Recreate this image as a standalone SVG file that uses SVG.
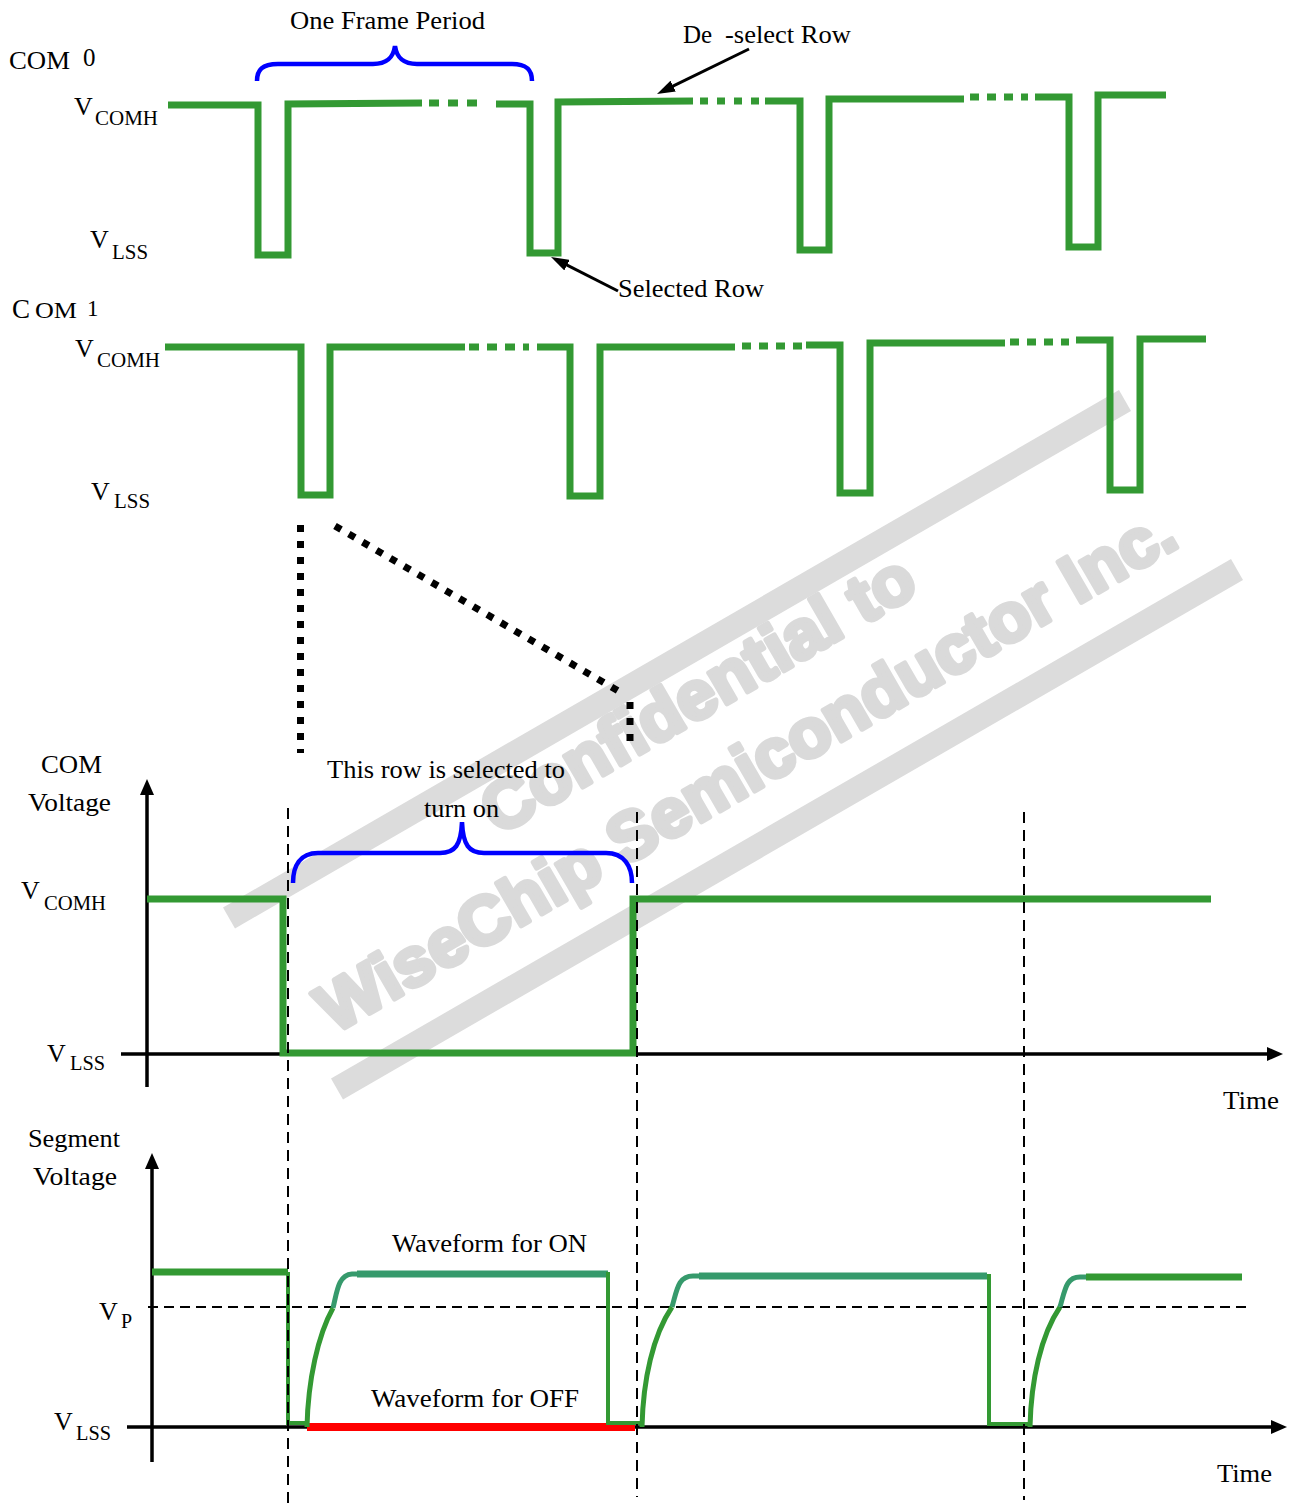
<svg xmlns="http://www.w3.org/2000/svg" width="1292" height="1503" viewBox="0 0 1292 1503">
<style>
text{font-family:"Liberation Serif","Times New Roman",serif;fill:#000}
.t{font-size:25px}
.v{font-size:26px}
.s{font-size:20px}
.wm{font-family:"Liberation Sans",Arial,sans-serif;font-weight:bold;font-size:68px;fill:#dadada;stroke:#dadada;stroke-width:5;stroke-linejoin:round}
.band{stroke:#dcdcdc;stroke-width:24;fill:none}
.g{fill:none;stroke:#339933;stroke-width:7;stroke-linejoin:miter;stroke-linecap:butt}
.gd{fill:none;stroke:#339933;stroke-width:7;stroke-dasharray:10 8}
.gt{fill:none;stroke:#339933;stroke-width:4}
.gc{fill:none;stroke:#339933;stroke-width:5}
.tc{fill:none;stroke:#369a6c;stroke-width:5}
.tt{fill:none;stroke:#369a6c;stroke-width:7}
.red{fill:none;stroke:#ff0000;stroke-width:8}
.brace{fill:none;stroke:#0000ff;stroke-width:4.5}
.axis{fill:none;stroke:#000;stroke-width:3.5}
.dash{fill:none;stroke:#000;stroke-width:2;stroke-dasharray:11 7}
.dot{fill:none;stroke:#000;stroke-width:7;stroke-dasharray:7 9}
.call{fill:none;stroke:#000;stroke-width:3}
</style>
<defs>
<marker id="ah" viewBox="0 0 16 14" refX="4" refY="7" markerWidth="16" markerHeight="14" markerUnits="userSpaceOnUse" orient="auto"><path d="M0,0 L16,7 L0,14 z" fill="#000"/></marker>
<marker id="ah2" viewBox="0 0 18 12" refX="6" refY="6" markerWidth="18" markerHeight="12" markerUnits="userSpaceOnUse" orient="auto"><path d="M0,0 L18,6 L0,12 z" fill="#000"/></marker>
</defs>
<g id="watermark">
<line class="band" x1="229" y1="918" x2="1125" y2="400.5"/>
<line class="band" x1="337" y1="1089" x2="1237" y2="569.5"/>
<text class="wm" transform="translate(498,836) rotate(-30)" textLength="488" lengthAdjust="spacingAndGlyphs">Confidential to</text>
<text class="wm" transform="translate(334,1034) rotate(-30)" textLength="978" lengthAdjust="spacingAndGlyphs">WiseChip Semiconductor Inc.</text>
</g>
<g id="com0">
<text class="t" x="9" y="69" textLength="61" lengthAdjust="spacingAndGlyphs">COM</text>
<text class="t" x="83" y="66">0</text>
<text class="v" x="74" y="115">V</text><text class="s" x="95" y="125" textLength="63" lengthAdjust="spacingAndGlyphs">COMH</text>
<text class="v" x="90" y="248">V</text><text class="s" x="112" y="259" textLength="36" lengthAdjust="spacingAndGlyphs">LSS</text>
<path class="g" d="M168,105 H258 V255 H288 V104 L422,103"/>
<path class="gd" d="M429,103 H477" style="stroke-dasharray:10 9"/>
<path class="g" d="M496,104 H530 V253 H558 V102 L693,101"/>
<path class="gd" d="M700,101 H760" style="stroke-dasharray:8 9"/>
<path class="g" d="M765,101 H800 V250 H829 V99 L964,99"/>
<path class="gd" d="M970,97 H1028" style="stroke-dasharray:9 8"/>
<path class="g" d="M1035,97 H1069 V247 H1098 V95 H1166"/>
</g>
<g id="frame-brace">
<path class="brace" d="M257,81 C257,70 262,64 278,64 L373,64 C386,64 393,59 395,46 C397,59 404,64 417,64 L512,64 C527,64 532,70 532,81"/>
<text class="t" x="290" y="29" textLength="195" lengthAdjust="spacingAndGlyphs">One Frame Period</text>
</g>
<g id="com1">
<text x="12" y="318" style="font-size:27px">C</text>
<text x="35" y="318" style="font-size:23px" textLength="42" lengthAdjust="spacingAndGlyphs">OM</text>
<text x="87" y="316" style="font-size:23px">1</text>
<text class="v" x="75" y="357">V</text><text class="s" x="97" y="367" textLength="63" lengthAdjust="spacingAndGlyphs">COMH</text>
<text class="v" x="91" y="500">V</text><text class="s" x="114" y="508" textLength="36" lengthAdjust="spacingAndGlyphs">LSS</text>
<path class="g" d="M165,347 H301 V495 H330 V347 H465"/>
<path class="gd" d="M469,347 H529" style="stroke-dasharray:10 8"/>
<path class="g" d="M537,347 H570 V496 H600 V347 H735"/>
<path class="gd" d="M742,346 H802" style="stroke-dasharray:9 8"/>
<path class="g" d="M806,345 H840 V493 H870 V343 H1005"/>
<path class="gd" d="M1010,342 H1069" style="stroke-dasharray:9 8"/>
<path class="g" d="M1076,340 H1110 V490 H1140 V339 H1206"/>
</g>
<g id="zoom-lines">
<line class="dot" x1="300.5" y1="525" x2="300.5" y2="753"/>
<line class="dot" x1="335" y1="526" x2="620" y2="692"/>
<line class="dot" x1="630" y1="702" x2="630" y2="741"/>
</g>
<g id="com-chart">
<text class="t" x="41" y="773" textLength="61" lengthAdjust="spacingAndGlyphs">COM</text>
<text class="t" x="28" y="811" textLength="83" lengthAdjust="spacingAndGlyphs">Voltage</text>
<text class="v" x="21" y="899">V</text><text class="s" x="44" y="910" textLength="62" lengthAdjust="spacingAndGlyphs">COMH</text>
<text class="v" x="47" y="1062">V</text><text class="s" x="70" y="1070" textLength="35" lengthAdjust="spacingAndGlyphs">LSS</text>
<text class="t" x="1223" y="1109" textLength="56" lengthAdjust="spacingAndGlyphs">Time</text>
<line class="axis" x1="147" y1="1087" x2="147" y2="791" marker-end="url(#ah)"/>
<line class="axis" x1="121" y1="1054" x2="1271" y2="1054" marker-end="url(#ah)"/>
<path class="g" d="M147,899 H283 V1053 H633 V899 H1211"/>
<path class="brace" d="M293,883 C293,866 300,853 318,853 L440,853 C455,853 461,845 462,822 C463,845 469,853 484,853 L606,853 C624,853 632,866 632,883"/>
<text class="t" x="327" y="778" textLength="238" lengthAdjust="spacingAndGlyphs">This row is selected to</text>
<text class="t" x="424" y="817" textLength="75" lengthAdjust="spacingAndGlyphs">turn on</text>
</g>
<g id="segment-chart">
<text class="t" x="28" y="1147" textLength="92" lengthAdjust="spacingAndGlyphs">Segment</text>
<text class="t" x="33" y="1185" textLength="84" lengthAdjust="spacingAndGlyphs">Voltage</text>
<text class="v" x="99" y="1320">V</text><text class="s" x="121" y="1328">P</text>
<text class="v" x="54" y="1430">V</text><text class="s" x="76" y="1440" textLength="35" lengthAdjust="spacingAndGlyphs">LSS</text>
<text class="t" x="1217" y="1482" textLength="55" lengthAdjust="spacingAndGlyphs">Time</text>
<text class="t" x="392" y="1252" textLength="195" lengthAdjust="spacingAndGlyphs">Waveform for ON</text>
<text class="t" x="371" y="1407" textLength="208" lengthAdjust="spacingAndGlyphs">Waveform for OFF</text>
<line class="axis" x1="152" y1="1462" x2="152" y2="1165" marker-end="url(#ah)"/>
<line class="axis" x1="127" y1="1427" x2="1275" y2="1427" marker-end="url(#ah)"/>
<line class="dash" x1="148" y1="1307" x2="1251" y2="1307" style="stroke-dasharray:10 6"/>
<path class="red" d="M307,1427 H635"/>
<path class="g" d="M152,1272 H288"/>
<path class="gt" d="M288,1272 V1423 H307"/>
<path class="gc" d="M307,1427 C308,1380 318,1335 333,1308"/>
<path class="tc" d="M333,1308 C337,1292 338,1275 352,1274 L359,1274"/>
<path class="tt" d="M357,1274 H608"/>
<path class="gt" d="M608,1272 V1423 H641"/>
<path class="gc" d="M642,1427 C643,1380 653,1335 672,1307"/>
<path class="tc" d="M672,1307 C677,1290 678,1276 693,1276 L700,1276"/>
<path class="tt" d="M699,1276 H987"/>
<path class="gt" d="M989,1274 V1424 H1030"/>
<path class="gc" d="M1030,1427 C1031,1380 1041,1335 1060,1307"/>
<path class="tc" d="M1060,1307 C1065,1290 1066,1277 1080,1277 L1087,1277"/>
<path class="g" d="M1086,1277 H1242"/>
</g>
<g id="guides">
<line class="dash" x1="288" y1="808" x2="288" y2="1503"/>
<line class="dash" x1="637" y1="812" x2="637" y2="1497"/>
<line class="dash" x1="1024" y1="812" x2="1024" y2="1500"/>
</g>
<g id="connectors">
<text class="t" x="683" y="43">De</text>
<text class="t" x="725" y="43" textLength="126" lengthAdjust="spacingAndGlyphs">-select Row</text>
<line class="call" x1="749" y1="49" x2="667.8" y2="88.7" marker-end="url(#ah2)"/>
<text class="t" x="618" y="297" textLength="146" lengthAdjust="spacingAndGlyphs">Selected Row</text>
<line class="call" x1="618" y1="291" x2="561.7" y2="262.4" marker-end="url(#ah2)"/>
</g>
</svg>
